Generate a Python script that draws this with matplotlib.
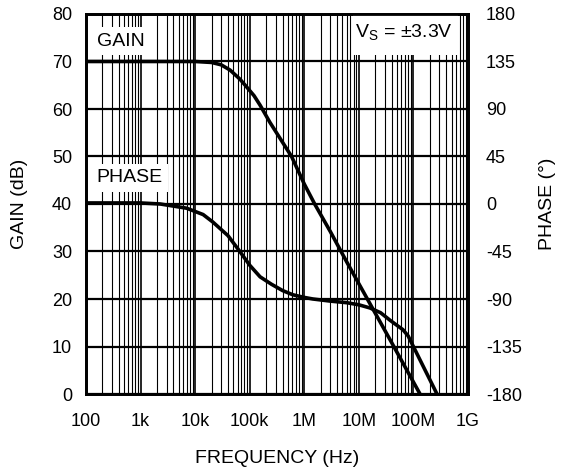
import numpy as np
import matplotlib.pyplot as plt
from matplotlib.patches import Rectangle
from matplotlib.ticker import LogLocator, NullFormatter

plt.rcParams['font.family'] = ['Liberation Sans', 'DejaVu Sans']
plt.rcParams['axes.unicode_minus'] = False

# Gain curve
gain_freq = [100, 1e3, 1e4, 20e3, 30e3, 43.6e3, 66e3, 87e3, 120e3, 155e3, 234e3,
             585e3, 1e6, 1.55e6, 3e6, 6e6, 14.8e6, 40e6, 132e6]
gain_db = [70, 70, 70, 69.8, 69.3, 68.2, 66.3, 64.7, 62.8, 60.8, 57.2,
           50, 44.2, 40, 34.2, 27.8, 19.7, 10.8, 0]

# Phase curve
phase_freq = [100, 1e3, 2.3e3, 7e3, 14e3, 21e3, 40e3, 66e3, 100e3, 155e3, 250e3,
              400e3, 617e3, 1e6, 1.44e6, 3e6, 6e6, 10e6, 16e6, 25e6, 37e6,
              50e6, 64e6, 80e6, 130e6, 270e6]
phase_deg = [1, 1, 0, -4, -10, -17, -30, -45, -58, -69, -76,
             -82, -86, -88.5, -90, -92, -93.5, -95.5, -98.5, -103, -110,
             -115, -119, -125, -147, -180]

xtick_vals = [1e2, 1e3, 1e4, 1e5, 1e6, 1e7, 1e8, 1e9]
xtick_labels = ['100', '1k', '10k', '100k', '1M', '10M', '100M', '1G']
gain_ticks = list(range(0, 81, 10))
phase_ticks = list(range(-180, 181, 45))

fig = plt.figure(figsize=(5.61, 4.73), dpi=100)
ax = fig.add_axes([86 / 561, 1 - 394 / 473, 382 / 561, 380 / 473])

ax.set_xscale('log')
ax.set_xlim(1e2, 1e9)
ax.set_ylim(0, 80)
ax.set_xticks(xtick_vals)
ax.set_xticklabels(xtick_labels)
ax.xaxis.set_minor_locator(LogLocator(base=10, subs=np.arange(2, 10)))
ax.xaxis.set_minor_formatter(NullFormatter())
ax.set_yticks(gain_ticks)

ax.grid(True, which='major', axis='y', color='black', linewidth=1.6)
ax.grid(True, which='major', axis='x', color='black', linewidth=1.2)
ax.grid(True, which='minor', axis='x', color='black', linewidth=0.8)
ax.tick_params(which='both', length=0, labelsize=13)
ax.tick_params(axis='x', pad=14)
ax.tick_params(axis='y', pad=10)
for s in ax.spines.values():
    s.set_linewidth(2)

ax.plot(gain_freq, gain_db, color='black', linewidth=2.6, zorder=5)

ax2 = ax.twinx()
ax2.set_ylim(-180, 180)
ax2.set_yticks(phase_ticks)
ax2.tick_params(length=0, labelsize=13, pad=13)
for s in ax2.spines.values():
    s.set_linewidth(2)
ax2.plot(phase_freq, phase_deg, color='black', linewidth=2.6)

ax.set_xlabel('FREQUENCY (Hz)', fontsize=14, labelpad=14)
ax.set_ylabel('GAIN (dB)', fontsize=14, labelpad=17)
ax2.set_ylabel('PHASE (°)', fontsize=14, labelpad=12)

box = dict(facecolor='white', edgecolor='none', pad=4)
ax.text(158, 74.3, 'GAIN', fontsize=14, ha='left', va='center', bbox=box, zorder=6)
ax.text(155, 45.5, 'PHASE', fontsize=14, ha='left', va='center', bbox=box, zorder=6)

# white panel behind the supply-voltage note
ax.add_patch(Rectangle((7.8e6, 71.3), 6.5e8 - 7.8e6, 8.7, facecolor='white',
                       edgecolor='none', zorder=6))
ax.text(5.3e8, 76.1, 'V$_\\mathregular{S}$ = ±3.3V', fontsize=14, ha='right',
        va='center', zorder=7)

fig.savefig('out.png', dpi=100)
